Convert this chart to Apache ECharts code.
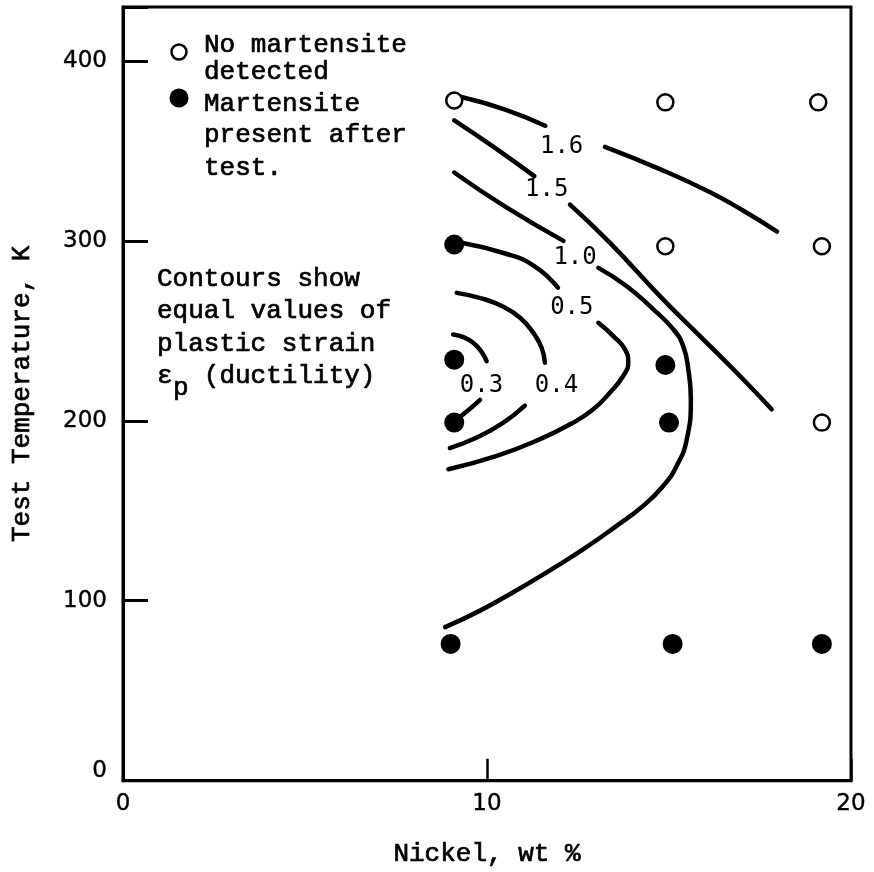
<!DOCTYPE html>
<html>
<head>
<meta charset="utf-8">
<script src="https://cdn.jsdelivr.net/npm/echarts@6/dist/echarts.min.js"></script>
<style>
  html, body { margin: 0; padding: 0; background: #fff; }
  #chart { width: 874px; height: 872px; }
</style>
</head>
<body>
<div id="chart"></div>
<script>
// Test points: nickel content (wt %) vs test temperature (K)
const noMartensite = [[9.1, 378], [14.9, 377], [19.1, 377], [14.9, 297], [19.2, 297], [19.2, 199]];
const martensite = [[9.1, 298], [9.1, 234], [9.1, 199], [14.9, 231], [15.0, 199], [9.0, 76], [15.1, 76], [19.2, 76]];

// Contours of equal plastic strain (each level broken where its label sits)
const strain16a = [[9.3, 380], [10.5, 373], [11.6, 364]];
const strain16b = [[13.24, 352.3], [14.75, 339.9], [16.13, 327], [17.09, 316.2], [17.97, 305.2]];
const strain15a = [[9.1, 367], [10.2, 352], [11.3, 336]];
const strain15b = [[12.28, 320.2], [13.38, 298.9], [14.75, 269.3], [15.85, 247.1], [16.95, 224.9], [17.82, 206.4]];
const strain10a = [[9.1, 338], [10.5, 319], [12.1, 300]];
const strain10b = [[13.06, 285], [13.84, 274.8], [14.57, 261.9], [15.12, 250.8], [15.39, 241.5], [15.53, 228.6],
                   [15.6, 212], [15.49, 189.8], [15.21, 174.9], [14.84, 163.8], [14.29, 152.7], [13.56, 141.6],
                   [12.65, 128.7], [11.64, 115.8], [10.72, 104.7], [9.81, 94.5], [8.85, 85.3]];
const strain05a = [[9.3, 299], [10.5, 293], [11.3, 286], [11.95, 274]];
const strain05b = [[13.06, 254.5], [13.47, 247.1], [13.79, 239.7], [13.88, 232.3], [13.74, 224.9], [13.38, 215.7],
                   [12.92, 206.4], [12.37, 199], [11.46, 189.8], [10.27, 180.5], [8.94, 173.1]];
const strain04a = [[9.17, 271.1], [9.9, 267.8], [10.45, 263.4], [10.91, 257.3], [11.27, 249], [11.5, 240.6], [11.59, 232.3]];
const strain04b = [[11.04, 208.5], [10.45, 199], [9.72, 190.7], [8.98, 184.8]];
const strain03a = [[9.07, 248], [9.62, 243.4], [9.99, 233.2]];
const strain03b = [[9.81, 211.6], [9.35, 203.6], [9.03, 199]];

// Contour level labels and where they sit on the plot (data coordinates)
const contourLabelText = ['1.6', '1.5', '1.0', '0.5', '0.3', '0.4'];
const contourLabelAt = [[12.05, 352.5], [11.64, 328.5], [12.42, 290.6], [12.33, 262.8], [9.85, 219.7], [11.91, 219.7]];

// Axis ticks
const xTicks = [0, 10, 20];
const yTicks = [0, 100, 200, 300, 400];

const typeFont = '"Liberation Mono", "Courier New", monospace';
const numFont = '"DejaVu Sans", "Liberation Sans", sans-serif';

const chart = echarts.init(document.getElementById('chart'), null, { renderer: 'canvas' });

function contour(name, data) {
  return {
    name: name,
    type: 'line',
    data: data,
    smooth: 0.5,
    showSymbol: false,
    symbol: 'none',
    silent: true,
    lineStyle: { color: '#000', width: 4.5, cap: 'round', join: 'round', opacity: 1 },
    z: 2
  };
}

// Typewriter-style annotation text
function note(x, y, text) {
  return {
    type: 'text', x: x, y: y, z: 10,
    style: {
      text: text, font: '26px ' + typeFont, fill: '#000',
      stroke: '#000', lineWidth: 0.7, verticalAlign: 'middle'
    }
  };
}

const option = {
  animation: false,
  backgroundColor: '#fff',
  grid: {
    left: 123, right: 23, top: 7, bottom: 90,
    show: true, borderColor: '#000', borderWidth: 3, backgroundColor: 'transparent'
  },
  xAxis: {
    type: 'value',
    min: 0, max: 20, interval: 10,
    name: 'Nickel, wt %',
    nameLocation: 'middle',
    nameGap: 60,
    nameTextStyle: { fontFamily: typeFont, fontSize: 26, color: '#000', textBorderColor: '#000', textBorderWidth: 0.7 },
    axisLine: { show: true, lineStyle: { color: '#000', width: 3 } },
    axisTick: { show: true, inside: true, length: 22, lineStyle: { color: '#000', width: 2.5 } },
    axisLabel: {
      margin: 12, color: '#000', fontFamily: numFont, fontSize: 23,
      textBorderColor: '#000', textBorderWidth: 0.4,
      formatter: v => xTicks.includes(v) ? String(v) : ''
    },
    splitLine: { show: false }
  },
  yAxis: {
    type: 'value',
    min: 0, max: 430, interval: 100,
    name: 'Test Temperature, K',
    nameLocation: 'middle',
    nameRotate: 90,
    nameGap: 88,
    nameTextStyle: { fontFamily: typeFont, fontSize: 26, color: '#000', textBorderColor: '#000', textBorderWidth: 0.7 },
    axisLine: { show: true, lineStyle: { color: '#000', width: 3 } },
    axisTick: { show: true, inside: true, length: 25, lineStyle: { color: '#000', width: 3 } },
    axisLabel: {
      margin: 16, color: '#000', fontFamily: numFont, fontSize: 23,
      textBorderColor: '#000', textBorderWidth: 0.4,
      formatter: v => v === 0 ? '{z|0}' : (yTicks.includes(v) ? String(v) : ''),
      rich: { z: { fontFamily: numFont, fontSize: 23, color: '#000', textBorderColor: '#000', textBorderWidth: 0.4, padding: [0, 0, 20, 0] } }
    },
    splitLine: { show: false }
  },
  series: [
    contour('1.6 upper', strain16a),
    contour('1.6 lower', strain16b),
    contour('1.5 upper', strain15a),
    contour('1.5 lower', strain15b),
    contour('1.0 upper', strain10a),
    contour('1.0 lower', strain10b),
    contour('0.5 upper', strain05a),
    contour('0.5 lower', strain05b),
    contour('0.4 upper', strain04a),
    contour('0.4 lower', strain04b),
    contour('0.3 upper', strain03a),
    contour('0.3 lower', strain03b),
    {
      name: 'Contour levels',
      type: 'scatter',
      data: contourLabelAt.map((p, i) => [p[0], p[1], contourLabelText[i]]),
      symbolSize: 0,
      silent: true,
      itemStyle: { opacity: 1 },
      label: {
        show: true, position: 'inside',
        formatter: p => p.value[2],
        fontFamily: '"DejaVu Sans Mono", monospace', fontSize: 24, color: '#000'
      },
      z: 3
    },
    {
      name: 'No martensite detected',
      type: 'scatter',
      data: noMartensite,
      symbol: 'circle',
      symbolSize: 16,
      silent: true,
      itemStyle: { color: '#fff', borderColor: '#000', borderWidth: 2.5, opacity: 1 },
      z: 4
    },
    {
      name: 'Martensite present after test.',
      type: 'scatter',
      data: martensite,
      symbol: 'circle',
      symbolSize: 20,
      silent: true,
      itemStyle: { color: '#000', opacity: 1 },
      z: 4
    }
  ],
  graphic: [
    // Legend key
    { type: 'circle', shape: { cx: 179, cy: 52, r: 7.5 }, style: { fill: '#fff', stroke: '#000', lineWidth: 2.5 }, z: 10 },
    { type: 'circle', shape: { cx: 179, cy: 98, r: 9.5 }, style: { fill: '#000' }, z: 10 },
    note(204, 45, 'No martensite'),
    note(204, 72, 'detected'),
    note(204, 104, 'Martensite'),
    note(204, 135, 'present after'),
    note(204, 168, 'test.'),
    // Note on what the contours mean
    note(157, 279, 'Contours show'),
    note(157, 311, 'equal values of'),
    note(157, 344, 'plastic strain'),
    note(157, 376, 'ε  (ductility)'),
    note(173, 388, 'p')
  ]
};

chart.setOption(option);
</script>
</body>
</html>
